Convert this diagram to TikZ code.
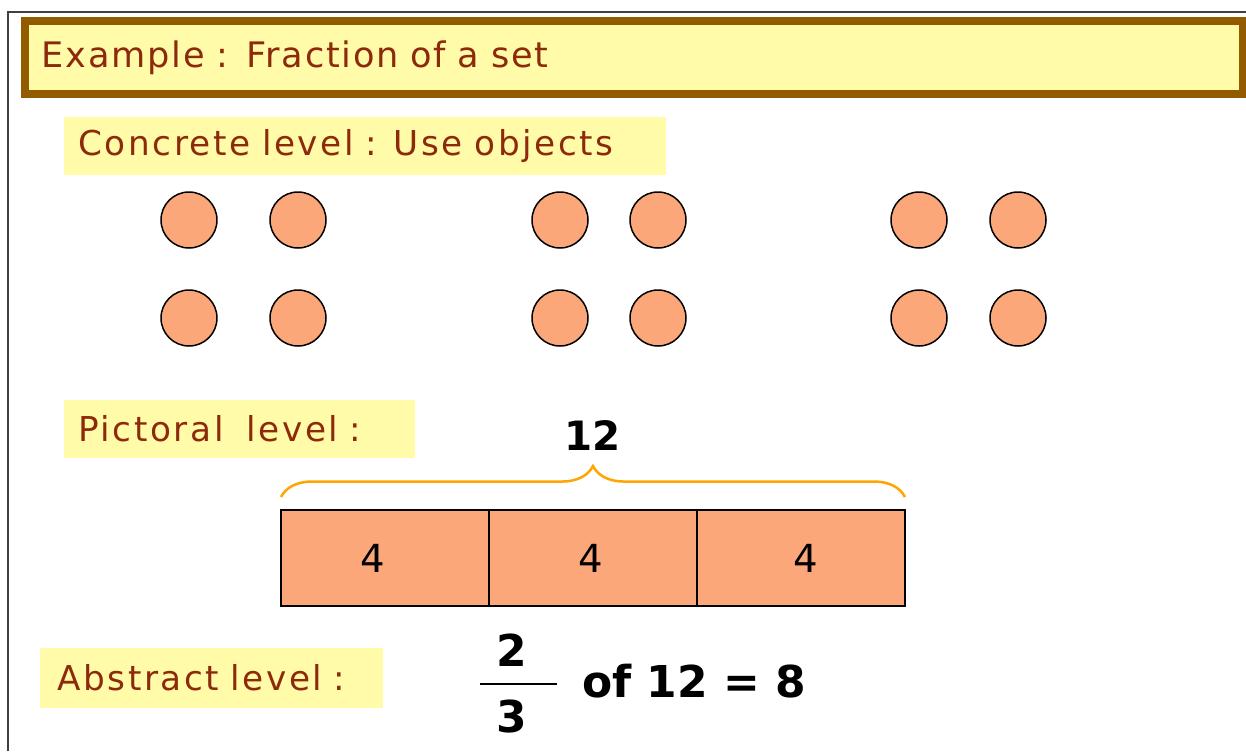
\documentclass[tikz,border=0pt]{standalone}
\usepackage{fontspec}
\setmainfont{DejaVu Sans}
\newfontfamily\gianchu[LetterSpace=7.5]{DejaVu Sans}
\newfontfamily\tieudechu[LetterSpace=5]{DejaVu Sans}
\usetikzlibrary{positioning,decorations.pathreplacing}
\definecolor{vangnhat}{HTML}{FFFBA8}
\definecolor{nauvien}{HTML}{935B00}
\definecolor{chudo}{HTML}{8E2A0C}
\definecolor{camnhat}{HTML}{FCA77A}
\definecolor{camdam}{HTML}{FFA500}
\tikzset{
	nhan/.style={fill=vangnhat, text=chudo, anchor=west, align=left, inner ysep=0pt,
		font=\gianchu\fontsize{19.5}{22}\selectfont},
	bi/.style={circle, draw=black, line width=0.03cm, fill=camnhat, minimum size=1.12cm, inner sep=0pt},
	phan/.style={rectangle, draw=black, line width=0.04cm, fill=camnhat, minimum width=4.16cm,
		minimum height=1.92cm, outer sep=0pt, font=\fontsize{22}{24}\selectfont},
	so/.style={font=\bfseries\fontsize{25}{27}\selectfont, inner sep=0pt}
}
\begin{document}
\begin{tikzpicture}[x=0.02cm, y=-0.02cm]
	\useasboundingbox (0,0) rectangle (1246,751);
	% khung ngoai
	\draw[gray!50!black, line width=0.03cm] (8,751)--(8,12)--(1246,12);
	% tieu de
	\node[nhan, font=\tieudechu\fontsize{20}{22}\selectfont, draw=nauvien, line width=0.16cm,
		minimum width=24.36cm, minimum height=1.46cm, inner xsep=0.34cm, text width=23.68cm]
		(tieude) at (21,57.5) {\raisebox{-0.09cm}{Example : Fraction of a set}};
	% muc cu the
	\node[nhan, minimum width=12.04cm, minimum height=1.16cm, inner xsep=0.28cm,
		text width=11.48cm] (cuthe) at (64,146) {Concrete level : Use objects};
	\foreach \x/\xx[count=\i] in {189/298,560/658,919/1018}
	\foreach \y[count=\j] in {220,318}{
		\node[bi] (a\i\j) at (\x,\y) {};
		\node[bi] (b\i\j) at (\xx,\y) {};
	}
	% muc hinh ve
	\node[nhan, minimum width=7.02cm, minimum height=1.16cm, inner xsep=0.28cm,
		text width=6.46cm] (hinhve) at (64,429) {Pictoral \ level :};
	\node[phan] (p1) at (385,558) {\hspace{-0.5cm}4};
	\node[phan, right=0pt of p1] (p2) {\hspace{-0.1cm}4};
	\node[phan, right=0pt of p2] (p3) {\hspace{0.2cm}4};
	\draw[camdam, line width=0.05cm, decorate, decoration={brace, amplitude=0.62cm}]
	([yshift=0.26cm]p1.north west)--([yshift=0.26cm]p3.north east)
	node[midway, above=0.9cm, so, font=\bfseries\fontsize{23}{25}\selectfont, text=black] (tong) {12};
	% muc truu tuong
	\node[nhan, minimum width=6.86cm, minimum height=1.2cm, inner xsep=0.34cm,
		text width=6.18cm] (truutuong) at (40,678) {Abstract level :};
	\node[so] (tu) at (512,650) {2};
	\node[so] (mau) at (512,716) {3};
	\path
	(480,684) coordinate (g1)
	(557,684) coordinate (g2)
	;
	\draw[line width=0.05cm] (g1)--(g2);
	\node[so, anchor=west] (ketqua) at (582,681) {of 12 = 8};
\end{tikzpicture}
\end{document}
